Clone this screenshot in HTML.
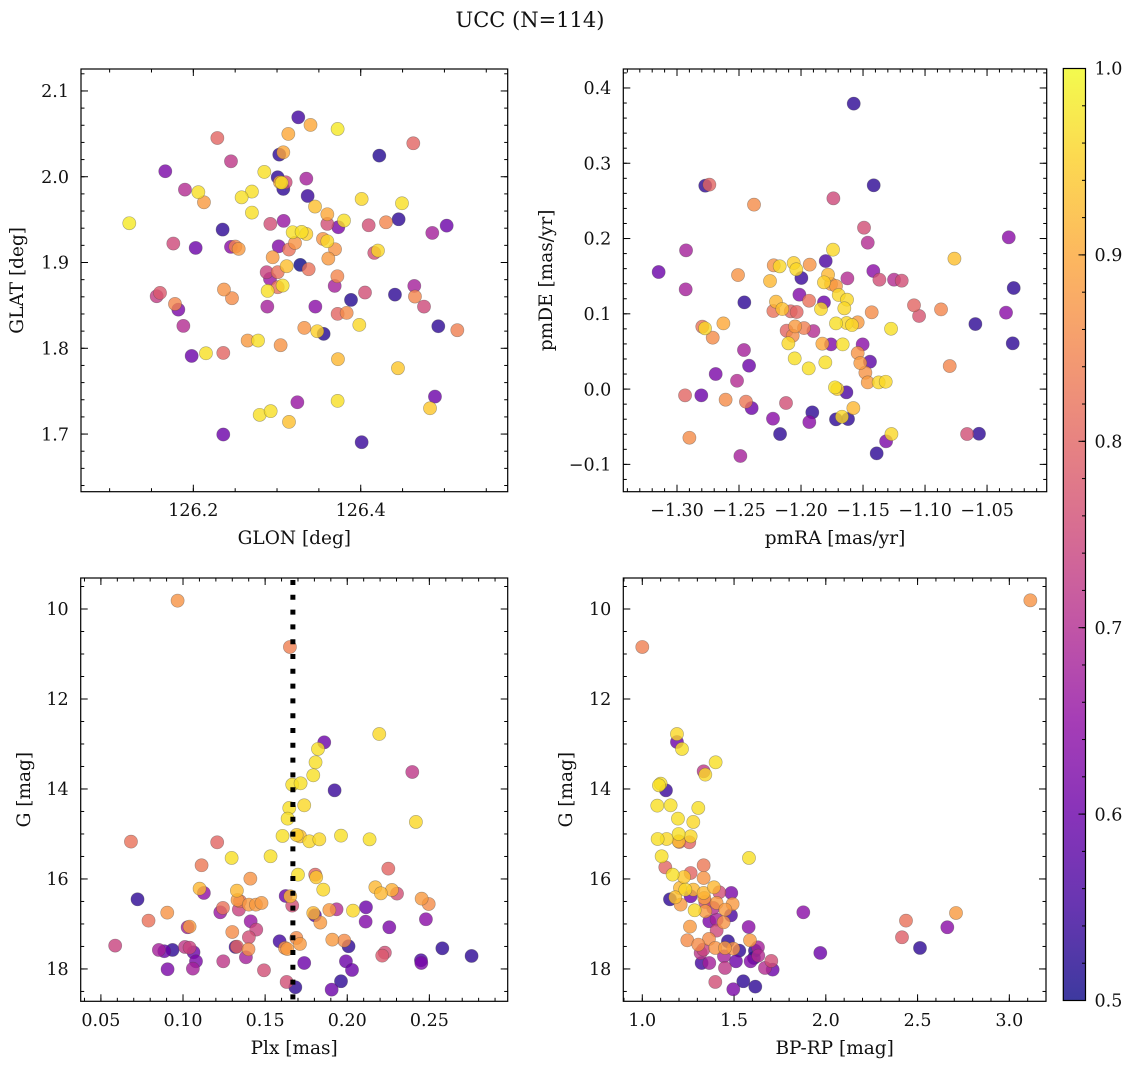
<!DOCTYPE html>
<html><head><meta charset="utf-8"><style>
html,body{margin:0;padding:0;background:#fff;}
svg{display:block;font-family:"DejaVu Serif","Liberation Serif",serif;}
</style></head><body>
<svg id="fig" width="1136" height="1068" viewBox="0 0 1136 1068" xmlns="http://www.w3.org/2000/svg">
<text x="530" y="27" font-size="21" text-anchor="middle" fill="#111">UCC (N=114)</text>
</svg>
<script>
// ---- Panel 1: GLON vs GLAT ----
const p1Glon=[126.3254,126.340,126.3724,126.3135,126.2287,126.4628,126.3027,126.3075,126.4222,126.245,126.1665,126.2848,126.3008,126.335,126.3035,126.3103,126.3055,126.3075,126.19,126.206,126.270,126.2577,126.2127,126.3366,126.4011,126.3454,126.4493,126.27,126.3601,126.1235,126.235,126.292,126.3079,126.38,126.3601,126.3732,126.4095,126.4302,126.4453,126.5027,126.4855,126.3187,126.3294,126.335,126.3549,126.3601,126.3215,126.1761,126.2028,126.245,126.2502,126.2542,126.302,126.3143,126.3693,126.4162,126.4206,126.2948,126.3278,126.3115,126.3378,126.3613,126.2876,126.3008,126.2916,126.3721,126.2888,126.3008,126.3067,126.2366,126.3689,126.4051,126.464,126.1562,126.1602,126.2462,126.4409,126.4648,126.3884,126.1781,126.1821,126.2884,126.3458,126.4756,126.3724,126.3832,126.1881,126.3326,126.3983,126.4927,126.5154,126.3481,126.3557,126.2649,126.2773,126.3043,126.198,126.2151,126.2358,126.3728,126.4445,126.3243,126.3724,126.4887,126.2793,126.2924,126.3143,126.4828,126.2358,126.4011];
const p1Glat=[2.0693,2.0604,2.0557,2.0499,2.0452,2.039,2.0258,2.0285,2.0246,2.018,2.0064,2.0056,1.9994,1.9978,1.9936,1.9936,1.993,1.9858,1.985,1.982,1.9827,1.976,1.9702,1.9776,1.9741,1.9652,1.9691,1.9582,1.9563,1.9458,1.9384,1.945,1.9485,1.9489,1.945,1.9411,1.9434,1.9469,1.9504,1.943,1.9345,1.9353,1.9357,1.9333,1.9275,1.9248,1.9228,1.9221,1.917,1.9182,1.9186,1.9159,1.9189,1.9151,1.9155,1.9112,1.9139,1.9061,1.8972,1.8957,1.8922,1.9046,1.8887,1.8887,1.8809,1.884,1.8669,1.8712,1.8731,1.8685,1.8727,1.865,1.8727,1.8607,1.8646,1.8584,1.8626,1.8603,1.8564,1.8517,1.8451,1.8486,1.8486,1.8486,1.8401,1.8413,1.8261,1.8238,1.8273,1.8257,1.8211,1.8199,1.8168,1.809,1.809,1.8036,1.7911,1.7942,1.7946,1.7873,1.7768,1.7371,1.7387,1.7437,1.7224,1.7267,1.7142,1.7301,1.6995,1.6905];
const p1Prob=[0.55,0.9,0.98,0.9,0.8,0.8,0.53,0.9,0.52,0.72,0.62,0.97,0.53,0.68,0.9,0.75,0.97,0.53,0.7,0.97,0.97,0.97,0.88,0.54,0.96,0.93,0.97,0.97,0.9,0.98,0.53,0.76,0.66,0.97,0.76,0.62,0.76,0.85,0.53,0.6,0.68,0.97,0.97,0.95,0.87,0.96,0.87,0.75,0.6,0.64,0.85,0.88,0.63,0.82,0.87,0.76,0.96,0.88,0.5,0.93,0.82,0.88,0.74,0.82,0.66,0.85,0.97,0.82,0.97,0.87,0.68,0.76,0.68,0.73,0.78,0.86,0.53,0.85,0.52,0.85,0.62,0.68,0.64,0.75,0.8,0.86,0.7,0.87,0.96,0.53,0.84,0.95,0.52,0.88,0.97,0.87,0.6,0.97,0.8,0.92,0.94,0.66,0.97,0.6,0.97,0.97,0.93,0.94,0.6,0.54];
const p1XTicks=[126.2,126.4];
const p1YTicks=[1.7,1.8,1.9,2.0,2.1];

// ---- Panel 2: pmRA vs pmDE ----
const p2Pmra=[-1.1575,-1.2772,-1.2739,-1.1414,-1.2379,-1.1739,-1.1492,-1.1462,-1.0325,-1.2927,-1.1742,-1.3148,-1.0763,-1.1801,-1.222,-1.2172,-1.2059,-1.2038,-1.193,-1.2508,-1.1997,-1.1417,-1.1782,-1.1815,-1.1758,-1.1718,-1.1626,-1.1368,-1.125,-1.1188,-1.293,-1.225,-1.0285,-1.2013,-1.2457,-1.2202,-1.1935,-1.1815,-1.1696,-1.1629,-1.1651,-1.1839,-1.2151,-1.2223,-1.2083,-1.2035,-1.143,-1.1089,-1.1048,-1.0871,-1.0347,-1.0594,-1.2796,-1.2774,-1.2626,-1.2048,-1.1976,-1.1718,-1.1632,-1.1589,-1.1543,-1.1274,-1.2712,-1.2116,-1.2067,-1.19,-1.2102,-1.1828,-1.1758,-1.1664,-1.1503,-1.246,-1.1543,-1.0293,-1.2051,-1.1804,-1.1522,-1.1444,-1.1938,-1.0801,-1.2419,-1.2688,-1.1481,-1.2516,-1.1462,-1.1374,-1.1317,-1.1726,-1.1707,-1.1634,-1.2935,-1.2804,-1.2608,-1.2444,-1.2398,-1.2121,-1.1909,-1.1578,-1.2226,-1.1933,-1.1718,-1.167,-1.1621,-1.2169,-1.29,-1.1314,-1.1271,-1.0661,-1.0565,-1.139,-1.2489];
const p2Pmde=[0.3792,0.2702,0.2716,0.2707,0.245,0.2534,0.2144,0.1945,0.2016,0.1843,0.1852,0.1555,0.1733,0.1701,0.1644,0.1631,0.1675,0.1591,0.1653,0.1515,0.1476,0.1569,0.152,0.1418,0.1396,0.1369,0.1471,0.1453,0.1453,0.144,0.1325,0.1436,0.1343,0.1254,0.1152,0.1161,0.1174,0.1152,0.125,0.1188,0.1073,0.1064,0.1064,0.1037,0.1033,0.1024,0.102,0.1113,0.0971,0.1059,0.1015,0.0864,0.0829,0.0807,0.0873,0.0833,0.0811,0.0873,0.0878,0.0851,0.0887,0.0802,0.0683,0.0776,0.0709,0.0771,0.0608,0.0603,0.0594,0.0594,0.0594,0.0519,0.0479,0.0608,0.0408,0.0355,0.0346,0.0364,0.0275,0.0306,0.0311,0.02,0.0218,0.0111,0.0089,0.0089,0.0098,0.0023,0.0001,-0.0043,-0.0083,-0.0083,-0.0141,-0.0167,-0.0252,-0.0185,-0.0309,-0.0252,-0.0393,-0.0438,-0.0402,-0.0367,-0.0398,-0.0597,-0.0646,-0.0694,-0.0597,-0.0597,-0.0593,-0.0854,-0.0889];
const p2Prob=[0.53,0.53,0.8,0.53,0.86,0.75,0.76,0.7,0.64,0.68,0.96,0.6,0.93,0.56,0.87,0.96,0.95,0.96,0.87,0.87,0.54,0.64,0.92,0.95,0.88,0.88,0.7,0.76,0.7,0.76,0.68,0.92,0.53,0.63,0.53,0.92,0.82,0.6,0.96,0.96,0.96,0.96,0.93,0.82,0.8,0.8,0.86,0.8,0.77,0.85,0.64,0.53,0.82,0.96,0.9,0.88,0.84,0.97,0.96,0.96,0.88,0.97,0.86,0.8,0.86,0.7,0.96,0.9,0.63,0.97,0.64,0.68,0.87,0.53,0.97,0.97,0.88,0.58,0.97,0.85,0.6,0.62,0.87,0.7,0.88,0.96,0.96,0.97,0.95,0.56,0.8,0.6,0.86,0.83,0.6,0.76,0.53,0.92,0.64,0.64,0.53,0.96,0.53,0.53,0.86,0.62,0.96,0.76,0.53,0.53,0.68];
const p2XTicks=[-1.30,-1.25,-1.20,-1.15,-1.10,-1.05];
const p2YTicks=[-0.1,0.0,0.1,0.2,0.3,0.4];

// ---- Panel 3: Plx vs G ----
const p3Plx=[0.0967,0.1651,0.2195,0.186,0.1822,0.1807,0.2396,0.1793,0.1665,0.1716,0.1923,0.1738,0.1647,0.1637,0.2418,0.1606,0.1692,0.1712,0.1769,0.183,0.1962,0.2136,0.0683,0.1208,0.1296,0.1533,0.1113,0.17,0.225,0.1805,0.1811,0.141,0.1854,0.1101,0.1127,0.1328,0.2171,0.2205,0.2272,0.2303,0.0723,0.1625,0.1653,0.1665,0.1332,0.1347,0.1401,0.1444,0.1478,0.2453,0.2496,0.1243,0.1227,0.134,0.0904,0.1891,0.1935,0.2035,0.2114,0.1793,0.1803,0.1836,0.079,0.1412,0.2112,0.2479,0.1028,0.104,0.1446,0.13,0.2256,0.1401,0.169,0.1712,0.1588,0.1909,0.1982,0.2008,0.0587,0.0853,0.0886,0.0936,0.1012,0.104,0.1064,0.132,0.1328,0.1399,0.1621,0.1635,0.2579,0.2757,0.2213,0.2229,0.2449,0.2451,0.1245,0.1383,0.1079,0.1738,0.1992,0.0906,0.106,0.1493,0.2029,0.1631,0.1962,0.1684,0.1905];
const p3G=[9.815,10.844,12.778,12.963,13.111,13.407,13.622,13.696,13.904,13.874,14.03,14.363,14.422,14.659,14.733,15.044,15.022,15.052,15.163,15.119,15.037,15.119,15.17,15.185,15.533,15.496,15.696,15.904,15.77,15.904,15.963,15.993,16.237,16.215,16.311,16.259,16.185,16.319,16.244,16.326,16.452,16.378,16.385,16.593,16.467,16.496,16.57,16.57,16.533,16.437,16.556,16.644,16.741,16.681,16.748,16.689,16.674,16.704,16.63,16.756,16.807,16.97,16.926,16.941,16.948,16.896,17.074,17.059,17.126,17.178,17.074,17.296,17.311,17.444,17.385,17.348,17.37,17.496,17.481,17.578,17.607,17.578,17.511,17.526,17.63,17.511,17.504,17.563,17.533,17.556,17.541,17.711,17.704,17.637,17.807,17.867,17.83,17.741,17.83,17.867,17.83,18.007,17.993,18.03,18.022,18.289,18.274,18.407,18.459];
const p3Prob=[0.87,0.84,0.96,0.6,0.97,0.97,0.72,0.97,0.97,0.97,0.54,0.96,0.97,0.97,0.96,0.97,0.95,0.93,0.96,0.96,0.97,0.97,0.82,0.8,0.97,0.97,0.83,0.97,0.8,0.8,0.94,0.87,0.96,0.92,0.65,0.92,0.92,0.92,0.91,0.76,0.53,0.6,0.92,0.76,0.88,0.82,0.88,0.88,0.88,0.88,0.86,0.82,0.66,0.74,0.87,0.88,0.7,0.96,0.6,0.92,0.57,0.88,0.82,0.66,0.63,0.64,0.68,0.88,0.74,0.86,0.62,0.76,0.86,0.88,0.55,0.88,0.86,0.53,0.74,0.68,0.6,0.53,0.72,0.74,0.6,0.55,0.8,0.86,0.87,0.88,0.53,0.53,0.78,0.76,0.56,0.62,0.72,0.68,0.62,0.6,0.6,0.62,0.68,0.76,0.6,0.76,0.53,0.53,0.6];
const p3XTicks=[0.05,0.10,0.15,0.20,0.25];
const p3YTicks=[10,12,14,16,18];
const p3PlxMean=[0.1669];

// ---- Panel 4: BP-RP vs G ----
const p4Bprp=[3.1145,1.0,1.1889,1.1889,1.2162,1.3996,1.3342,1.3433,1.0999,1.0908,1.129,1.0817,1.1544,1.3052,1.1944,1.2779,1.0836,1.1326,1.198,1.2016,1.2561,1.2634,1.198,1.1054,1.5813,1.3342,1.1253,1.2634,1.1653,1.2271,1.3342,1.2053,1.2343,1.2779,1.3342,1.3906,1.4196,1.485,1.1508,1.1798,1.2634,1.3379,1.3433,1.4051,1.4923,1.2089,1.2852,1.3433,1.3869,1.4523,1.4832,1.8774,2.7094,2.4369,1.3651,1.4051,1.4432,1.2598,1.5795,2.6621,1.4051,2.4151,1.2452,1.3633,1.4668,1.5868,1.3052,1.3324,1.3978,1.4505,1.4959,1.5286,1.614,1.6303,2.5132,1.97,1.6321,1.3179,1.445,1.5104,1.5904,1.6085,1.703,1.3233,1.3651,1.4505,1.6685,1.7103,1.3978,1.5504,1.6158,1.4959];
const p4G=[9.807,10.844,12.778,12.956,13.111,13.407,13.607,13.681,13.881,13.919,14.03,14.37,14.363,14.422,14.659,14.733,15.111,15.111,15.0,15.178,15.185,15.052,15.163,15.496,15.533,15.696,15.741,15.867,15.904,15.956,15.978,16.2,16.237,16.237,16.311,16.185,16.296,16.311,16.452,16.407,16.385,16.422,16.511,16.533,16.556,16.57,16.696,16.719,16.644,16.681,16.807,16.741,16.756,16.926,16.941,16.904,16.963,17.059,17.067,17.074,17.148,17.296,17.363,17.333,17.385,17.363,17.459,17.57,17.533,17.533,17.548,17.593,17.593,17.519,17.533,17.644,17.704,17.644,17.719,17.83,17.83,17.756,17.822,17.867,17.867,17.978,17.978,18.015,18.289,18.274,18.393,18.452];
const p4Prob=[0.87,0.84,0.96,0.6,0.97,0.97,0.72,0.96,0.97,0.97,0.54,0.97,0.97,0.97,0.97,0.96,0.97,0.96,0.97,0.8,0.8,0.96,0.93,0.97,0.97,0.83,0.8,0.8,0.97,0.94,0.87,0.92,0.96,0.92,0.92,0.92,0.76,0.62,0.53,0.93,0.6,0.88,0.76,0.88,0.88,0.88,0.96,0.88,0.7,0.88,0.56,0.64,0.88,0.82,0.62,0.68,0.87,0.88,0.64,0.64,0.75,0.79,0.86,0.86,0.53,0.88,0.86,0.74,0.87,0.88,0.87,0.53,0.53,0.68,0.53,0.6,0.7,0.72,0.68,0.6,0.63,0.53,0.76,0.55,0.68,0.72,0.7,0.6,0.76,0.53,0.53,0.62];
const p4XTicks=[1.0,1.5,2.0,2.5,3.0];
const p4YTicks=[10,12,14,16,18];

// ---- Colorbar ----
const cbTicks=[0.5,0.6,0.7,0.8,0.9,1.0];

const NS='http://www.w3.org/2000/svg';
const svg=document.getElementById('fig');
function mk(tag,attrs,parent){const e=document.createElementNS(NS,tag);for(const k in attrs)e.setAttribute(k,attrs[k]);(parent||svg).appendChild(e);return e;}

const plasmaStops=['#0d0887','#41049d','#6a00a8','#8f0da4','#b12a90','#cc4778','#e16462','#f2844b','#fca636','#fcce25','#f0f921'];
function hex2rgb(h){return [parseInt(h.substr(1,2),16),parseInt(h.substr(3,2),16),parseInt(h.substr(5,2),16)];}
function plasma(t){t=Math.max(0,Math.min(1,t));const f=t*10,i=Math.min(9,Math.floor(f)),r=f-i;const a=hex2rgb(plasmaStops[i]),b=hex2rgb(plasmaStops[i+1]);return 'rgb('+a.map((v,k)=>Math.round(v+(b[k]-v)*r)).join(',')+')';}
function probColor(p){return plasma((p-0.5)/0.5);}
function fmt(v,d){const s=Math.abs(v).toFixed(d);return (v<-1e-9?'\u2212':'')+s;}

const TF=17.5, LF=18.5;
function makeAxis(c){
  const g=mk('g',{});
  
  
  const sx=v=>c.x0+(v-c.xmin)/(c.xmax-c.xmin)*(c.x1-c.x0);
  const sy=v=>c.y0+(c.ytop-v)/(c.ytop-c.ybot)*(c.y1-c.y0);
  const tk=mk('g',{stroke:'#000','stroke-width':1},g);
  
  
  const lo=Math.min(c.xmin,c.xmax),hi=Math.max(c.xmin,c.xmax);
  for(let k=Math.ceil(lo/c.xminor-1e-6);k*c.xminor<=hi+1e-9;k++){const x=sx(k*c.xminor);mk('line',{x1:x,x2:x,y1:c.y1,y2:c.y1-3.5},tk);mk('line',{x1:x,x2:x,y1:c.y0,y2:c.y0+3.5},tk);}
  const ylo=Math.min(c.ytop,c.ybot),yhi=Math.max(c.ytop,c.ybot);
  for(let k=Math.ceil(ylo/c.yminor-1e-6);k*c.yminor<=yhi+1e-9;k++){const y=sy(k*c.yminor);mk('line',{x1:c.x0,x2:c.x0+3.5,y1:y,y2:y},tk);mk('line',{x1:c.x1,x2:c.x1-3.5,y1:y,y2:y},tk);}
  c.xticks.forEach(v=>{const x=sx(v);mk('line',{x1:x,x2:x,y1:c.y1,y2:c.y1-7},tk);mk('line',{x1:x,x2:x,y1:c.y0,y2:c.y0+7},tk);
    const t=mk('text',{x:x,y:c.y1+24.5,'font-size':TF,'text-anchor':'middle',fill:'#111'},g);t.textContent=fmt(v,c.xd);
    });
  c.yticks.forEach(v=>{const y=sy(v);mk('line',{x1:c.x0,x2:c.x0+7,y1:y,y2:y},tk);mk('line',{x1:c.x1,x2:c.x1-7,y1:y,y2:y},tk);
    const t=mk('text',{x:c.x0-12,y:y+6.2,'font-size':TF,'text-anchor':'end',fill:'#111'},g);t.textContent=fmt(v,c.yd);
    });
  const xl=mk('text',{x:(c.x0+c.x1)/2,y:c.y1+52.5,'font-size':LF,'text-anchor':'middle',fill:'#111'},g);xl.textContent=c.xlabel;
  
  const yl=mk('text',{x:0,y:0,'font-size':LF,'text-anchor':'middle',fill:'#111',transform:'translate('+c.ylx+','+((c.y0+c.y1)/2)+') rotate(-90)'},g);yl.textContent=c.ylabel;
  
  return {g,sx,sy};
}
function scatter(ax,c,xs,ys,ps){
  const clip='clip-'+c.name;
  const cp=mk('clipPath',{id:clip});mk('rect',{x:c.x0,y:c.y0,width:c.x1-c.x0,height:c.y1-c.y0},cp);
  const pg=mk('g',{'clip-path':'url(#'+clip+')'},ax.g);
  
  
  const n=Math.min(xs.length,ys.length,ps.length);
  const idx=[];for(let i=0;i<n;i++)idx.push(i);
  idx.sort((a,b)=>ps[a]-ps[b]);
  idx.forEach(i=>{const pt=mk('circle',{cx:ax.sx(xs[i]),cy:ax.sy(ys[i]),r:6.6,fill:probColor(ps[i]),'fill-opacity':0.8,stroke:'#444','stroke-opacity':0.45,'stroke-width':0.6},pg);
    
    });
  return pg;
}
function frame(ax,c){const r=mk('rect',{x:c.x0,y:c.y0,width:c.x1-c.x0,height:c.y1-c.y0,fill:'none',stroke:'#000','stroke-width':1.2},ax.g);
  }

const c1={name:'glon-glat-panel',x0:81,x1:507.7,y0:69,y1:491.7,xmin:126.0658,xmax:126.5756,ytop:2.1256,ybot:1.6328,xticks:p1XTicks,yticks:p1YTicks,xminor:0.05,yminor:0.02,xd:1,yd:1,xlabel:'GLON [deg]',ylabel:'GLAT [deg]',ylx:23};
const a1=makeAxis(c1);scatter(a1,c1,p1Glon,p1Glat,p1Prob);frame(a1,c1);

const c2={name:'pm-panel',x0:623.3,x1:1046.7,y0:69,y1:491.7,xmin:-1.3433,xmax:-1.0019,ytop:0.4252,ybot:-0.1363,xticks:p2XTicks,yticks:p2YTicks,xminor:0.01,yminor:0.02,xd:2,yd:1,xlabel:'pmRA [mas/yr]',ylabel:'pmDE [mas/yr]',ylx:552};
const a2=makeAxis(c2);scatter(a2,c2,p2Pmra,p2Pmde,p2Prob);frame(a2,c2);

const c3={name:'plx-g-panel',x0:80.7,x1:507.7,y0:578,y1:1001.3,xmin:0.0377,xmax:0.2977,ytop:9.311,ybot:18.719,xticks:p3XTicks,yticks:p3YTicks,xminor:0.01,yminor:0.5,xd:2,yd:0,xlabel:'Plx [mas]',ylabel:'G [mag]',ylx:30};
const a3=makeAxis(c3);
scatter(a3,c3,p3Plx,p3G,p3Prob);
p3PlxMean.forEach(v=>{const x=a3.sx(v);const ln=mk('line',{x1:x,x2:x,y1:c3.y0+2,y2:c3.y1,stroke:'#000','stroke-width':5,'stroke-dasharray':'5 9.8'},a3.g);
  });
frame(a3,c3);

const c4={name:'cmd-panel',x0:623.3,x1:1046,y0:578,y1:1001.3,xmin:0.8965,xmax:3.1998,ytop:9.311,ybot:18.719,xticks:p4XTicks,yticks:p4YTicks,xminor:0.1,yminor:0.5,xd:1,yd:0,xlabel:'BP-RP [mag]',ylabel:'G [mag]',ylx:572};
const a4=makeAxis(c4);scatter(a4,c4,p4Bprp,p4G,p4Prob);frame(a4,c4);

// colorbar
(function(){
  const x0=1063.3,x1=1085.5,y0=68.5,y1=1000.5;
  const cb=mk('g',{});
  
  
  const defs=mk('defs',{},cb);
  const lg=mk('linearGradient',{id:'cbgrad',x1:0,y1:1,x2:0,y2:0},defs);
  for(let i=0;i<=20;i++){const t=i/20;mk('stop',{offset:t,'stop-color':plasma(t),'stop-opacity':0.8},lg);}
  mk('rect',{x:x0,y:y0,width:x1-x0,height:y1-y0,fill:'url(#cbgrad)'},cb);
  const sy=v=>y1-(v-0.5)/0.5*(y1-y0);
  for(let k=25;k<=50;k++){const y=sy(k*0.02);mk('line',{x1:x1,x2:x1-3.5,y1:y,y2:y,stroke:'#000','stroke-width':1},cb);}
  cbTicks.forEach(v=>{const y=sy(v);mk('line',{x1:x1,x2:x1-7,y1:y,y2:y,stroke:'#000','stroke-width':1},cb);
    const t=mk('text',{x:x1+9,y:y+6.2,'font-size':TF,fill:'#111'},cb);t.textContent=v.toFixed(1);
    });
  mk('rect',{x:x0,y:y0,width:x1-x0,height:y1-y0,fill:'none',stroke:'#000','stroke-width':1.2},cb);
})();
</script>
</body></html>
